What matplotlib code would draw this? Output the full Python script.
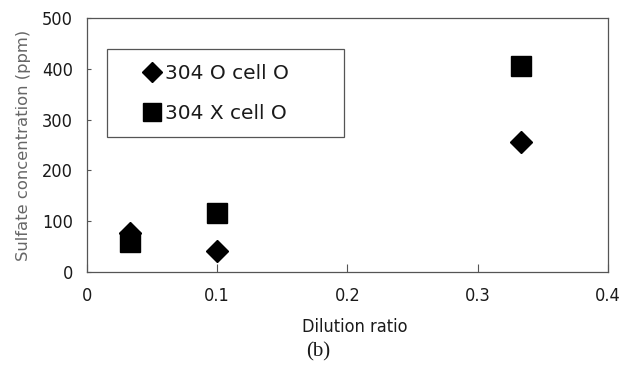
import matplotlib

matplotlib.use("Agg")
import matplotlib.pyplot as plt
from matplotlib.patches import Rectangle

# values
dilution = [1 / 30, 0.1, 1 / 3]
sulfate_cell_on = [77, 41, 256]  # 304 O cell O (diamonds)
sulfate_cell_off = [59, 117, 406]  # 304 X cell O (squares)
series_labels = ["304 O cell O", "304 X cell O"]
x_ticks = [0, 0.1, 0.2, 0.3, 0.4]
x_tick_labels = ["0", "0.1", "0.2", "0.3", "0.4"]
y_ticks = [0, 100, 200, 300, 400, 500]

INK = "#1a1a1a"

fig = plt.figure(figsize=(6.2, 3.75), dpi=100)
ax = fig.add_axes([0.1403, 0.2747, 0.8403, 0.6773])

ax.plot(dilution, sulfate_cell_on, linestyle="none", marker="D", markersize=11.5,
        color="black", label=series_labels[0])
ax.plot(dilution, sulfate_cell_off, linestyle="none", marker="s", markersize=15,
        color="black", label=series_labels[1])

ax.set_xlim(0, 0.4)
ax.set_ylim(0, 500)
ax.set_xticks(x_ticks)
ax.set_xticklabels(x_tick_labels)
ax.set_yticks(y_ticks)

for s in ax.spines.values():
    s.set_color("#555555")
    s.set_linewidth(0.9)
ax.tick_params(axis="x", direction="in", length=6, width=0.8, color="#555555",
               pad=11, labelsize=13, labelcolor=INK)
ax.tick_params(axis="y", direction="in", length=3, width=0.8, color="#555555",
               pad=10, labelsize=13, labelcolor=INK)
for lab in ax.get_xticklabels() + ax.get_yticklabels():
    lab.set_fontstretch("condensed")

ax.set_xlabel("Dilution ratio", fontsize=13, fontstretch="condensed", color=INK)
ax.xaxis.set_label_coords(0.513, -0.18)
ax.set_ylabel("Sulfate concentration (ppm)", fontsize=11.8, color="#666666")
ax.yaxis.set_label_coords(-0.108, 0.5)

# legend frame drawn separately so its size matches the scan
ax.add_patch(Rectangle((0.038, 0.531), 0.456, 0.347, transform=ax.transAxes,
                       fill=False, edgecolor="#555555", linewidth=0.9))
ax.legend(loc="center left", bbox_to_anchor=(0.106, 0.703), frameon=False,
          borderpad=0, borderaxespad=0, handlelength=1.0, handletextpad=0.15,
          labelspacing=1.08, markerscale=0.88, prop={"size": 14.5},
          labelcolor=INK)

fig.text(0.513, 0.061, "(b)", fontsize=15, family="Liberation Serif", color=INK,
         ha="center", va="center")

fig.savefig("out.png", dpi=100)
